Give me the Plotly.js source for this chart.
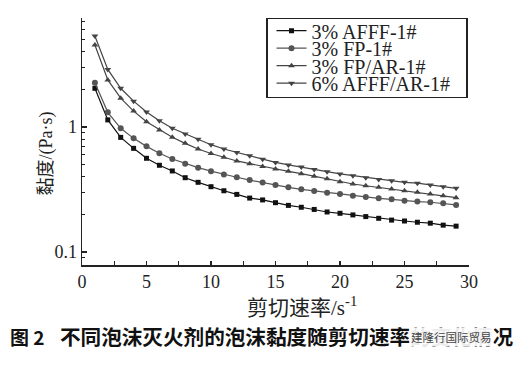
<!DOCTYPE html>
<html>
<head>
<meta charset="utf-8">
<script src="https://cdn.plot.ly/plotly-3.0.1.min.js"></script>
<style>html,body{margin:0;padding:0;background:#fff;}#chart{width:521px;height:365px;}</style>
</head>
<body>
<div id="chart"></div>
<script>
const shearRate = [1,2,3,4,5,6,7,8,9,10,11,12,13,14,15,16,17,18,19,20,21,22,23,24,25,26,27,28,29];
const seriesNames = ['3% AFFF-1#', '3% FP-1#', '3% FP/AR-1#', '6% AFFF/AR-1#'];
const afff1 = [2.04,1.14,0.826,0.675,0.562,0.494,0.445,0.393,0.361,0.333,0.309,0.289,0.270,0.261,0.248,0.236,0.228,0.219,0.209,0.204,0.198,0.192,0.186,0.180,0.177,0.173,0.170,0.164,0.161];
const fp1 = [2.26,1.31,0.976,0.811,0.700,0.616,0.555,0.509,0.473,0.443,0.416,0.396,0.376,0.359,0.344,0.329,0.317,0.308,0.298,0.291,0.282,0.275,0.269,0.264,0.257,0.253,0.250,0.245,0.238];
const fpar1 = [4.53,2.38,1.70,1.34,1.10,0.946,0.827,0.740,0.667,0.614,0.573,0.535,0.509,0.484,0.461,0.442,0.423,0.404,0.385,0.365,0.350,0.339,0.329,0.319,0.309,0.300,0.291,0.282,0.272];
const afffar1 = [5.35,2.89,2.04,1.61,1.32,1.12,0.976,0.879,0.797,0.722,0.667,0.625,0.588,0.551,0.521,0.497,0.479,0.458,0.439,0.421,0.408,0.393,0.381,0.372,0.361,0.355,0.344,0.333,0.323];
const yTickVals = [0.1, 1];
const yTickText = ['0.1', '1'];
const yMinorVals = [0.08,0.09,0.2,0.3,0.4,0.5,0.6,0.7,0.8,0.9,2,3,4,5,6,7];
const xTitle = '剪切速率/s<sup>-1</sup>';
const yTitle = '黏度/(Pa·s)';
const captionNo = '<b>图 2</b>';
const captionText = '<b>不同泡沫灭火剂的泡沫黏度随剪切速率的变化情况</b>';
const watermark = '建隆行国际贸易';

const serif = '"Liberation Serif", "Times New Roman", serif';
const cjk = '"Liberation Serif", "Noto Sans CJK SC", serif';
const cjkBold = '"Noto Sans CJK SC", sans-serif';

const styles = [
  {sym:'square', col:'#111'},
  {sym:'circle', col:'#555'},
  {sym:'triangle-up', col:'#444'},
  {sym:'triangle-down', col:'#444'}
];
const ys = [afff1, fp1, fpar1, afffar1];
const data = ys.map((y,i)=>({
  x: shearRate, y: y, name: seriesNames[i], type:'scatter', mode:'lines+markers',
  line:{color:styles[i].col, width:1.2},
  marker:{symbol:styles[i].sym, color:styles[i].col, size:i===0?5:6}
}));

const layout = {
  width:521, height:365,
  margin:{l:82, r:52, t:18, b:100},
  paper_bgcolor:'#fff', plot_bgcolor:'#fff',
  showlegend:true,
  legend:{x:0.476, y:1, xanchor:'left', yanchor:'top', bordercolor:'#222', borderwidth:1.3,
    bgcolor:'#fff', font:{family:serif, size:20, color:'#222'}, tracegroupgap:0, itemwidth:30},
  xaxis:{range:[0,30], showline:true, linecolor:'#222', linewidth:1.5, zeroline:false, showgrid:false,
    ticks:'inside', ticklen:4, tickwidth:1.2, tickcolor:'#222', dtick:5, tick0:0,
    minor:{dtick:2.5, tick0:0, ticks:'inside', ticklen:4, tickcolor:'#222', tickwidth:1.2},
    tickfont:{family:serif, size:18, color:'#222'}},
  yaxis:{type:'log', range:[-1.104, 0.872], showline:true, linecolor:'#222', linewidth:1.5, zeroline:false, showgrid:false,
    tickmode:'array', tickvals:yTickVals, ticktext:yTickText,
    ticks:'inside', ticklen:5, tickwidth:1.2, tickcolor:'#222',
    minor:{tickmode:'array', tickvals:yMinorVals, ticks:'inside', ticklen:3, tickcolor:'#222', tickwidth:1},
    tickfont:{family:serif, size:18, color:'#222'}},
  annotations:[
    {text:xTitle, xref:'paper', yref:'paper', x:0.569, y:-0.166, xanchor:'center', yanchor:'middle',
      showarrow:false, font:{family:cjk, size:21, color:'#222'}},
    {text:yTitle, xref:'paper', yref:'paper', x:-0.092, y:0.453, xanchor:'center', yanchor:'middle',
      textangle:-90, showarrow:false, font:{family:cjk, size:18, color:'#222'}},
    {text:captionNo, xref:'paper', yref:'paper', x:-0.192, y:-0.289, xanchor:'left', yanchor:'middle',
      showarrow:false, font:{family:cjkBold, size:19, color:'#111'}},
    {text:captionText, xref:'paper', yref:'paper', x:-0.062, y:-0.289, xanchor:'left', yanchor:'middle',
      showarrow:false, font:{family:cjkBold, size:20.6, color:'#111'}},
    {text:watermark, xref:'paper', yref:'paper', x:1.0646, y:-0.291, xanchor:'right', yanchor:'middle',
      showarrow:false, bgcolor:'rgba(255,255,255,0.92)', borderpad:1,
      font:{family:cjkBold, size:11.5, color:'#444'}}
  ]
};
Plotly.newPlot('chart', data, layout, {displayModeBar:false, staticPlot:true}).then(function(gd){
  try {
    const leg = gd.querySelector('g.legend');
    if (!leg) return;
    const items = leg.querySelectorAll('g.traces');
    const rowGap = 17.5, firstY = 12.7;
    items.forEach(function(it, i){
      const tr = it.getAttribute('transform') || '';
      const m = /translate\(\s*([-\d.]+)[ ,]+([-\d.]+)\s*\)/.exec(tr);
      const x0 = m ? parseFloat(m[1]) : 0;
      it.setAttribute('transform', 'translate(' + (x0 + 4) + ',' + (firstY + rowGap * i) + ')');
    });
    const bg = leg.querySelector('rect.bg');
    if (bg) { bg.setAttribute('height', 79); bg.setAttribute('width', 200); }
    leg.querySelectorAll('clipPath rect, rect.scrollbox').forEach(function(r){ r.setAttribute('width', 200); });
  } catch (e) {}
});
</script>
</body>
</html>
